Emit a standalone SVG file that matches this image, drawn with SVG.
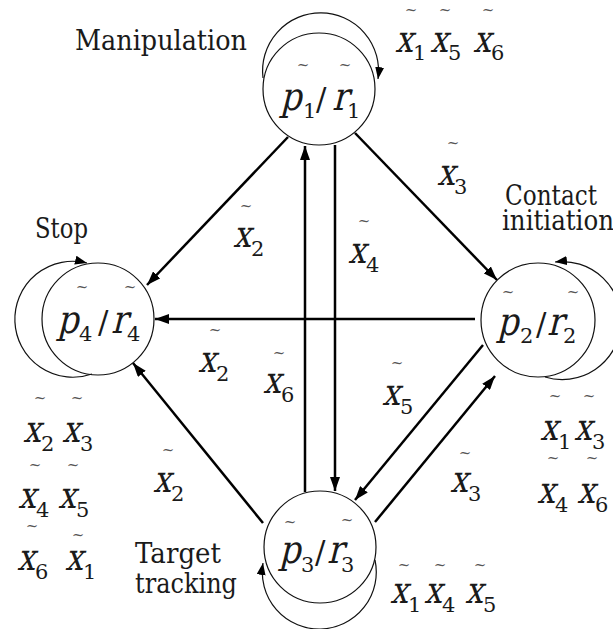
<svg xmlns="http://www.w3.org/2000/svg" width="613" height="629" viewBox="0 0 613 629" font-family="DejaVu Serif, serif">
<style>
.lbl{font-size:27px;fill:#1a1a1a}
.m{font-size:37px;fill:#1a1a1a}
.pr{font-size:39px;fill:#1a1a1a}
.s{font-size:21px;fill:#1a1a1a}
.sl{font-size:31px;fill:#1a1a1a}
.t{font-size:15px;fill:#555;text-anchor:middle}
.node{fill:none;stroke:#111;stroke-width:1.2}
.loop{fill:none;stroke:#111;stroke-width:1.2;marker-end:url(#ahs)}
.edge{fill:none;stroke:#000;stroke-width:2.5;marker-end:url(#ah)}
</style>
<defs>
<marker id="ah" markerUnits="userSpaceOnUse" markerWidth="14" markerHeight="10" refX="14" refY="5" orient="auto"><path d="M0,0 L14,5 L0,10 z" fill="#000"/></marker>
<marker id="ahs" markerUnits="userSpaceOnUse" markerWidth="12" markerHeight="9" refX="12" refY="4.5" orient="auto"><path d="M0,0 L12,4.5 L0,9 z" fill="#000"/></marker>
</defs>
<rect width="613" height="629" fill="#fff"/>

<g id="connectors">
<path class="edge" d="M288,137 L147,285"/>
<path class="edge" d="M355,133 L497,280"/>
<path class="edge" d="M305,492 L305,146"/>
<path class="edge" d="M335,145 L335,491"/>
<path class="edge" d="M475,319 L155,319"/>
<path class="edge" d="M263,523 L133,363"/>
<path class="edge" d="M483,345 L355,500"/>
<path class="edge" d="M375,522 L495,376"/>
<path class="loop" d="M263,78 A58,58 0 1,1 378,79"/>
<path class="loop" d="M545,377 A59,59 0 1,0 555,262"/>
<path class="loop" d="M375,560 A57,57 0 1,1 263,563"/>
<path class="loop" d="M92,374 A58,58 0 1,1 87,263"/>
</g>

<g id="node1">
<circle class="node" cx="319" cy="89" r="56"/>
<text class="pr" transform="translate(280,110) skewX(-14) scale(0.85,1)">p</text><text class="s" x="303" y="118">1</text>
<text class="sl" x="316" y="110">/</text>
<text class="pr" transform="translate(332,110) skewX(-14) scale(0.85,1)">r</text><text class="s" x="347" y="118">1</text>
<text class="t" x="303" y="70">~</text><text class="t" x="345" y="70">~</text>
</g>
<g id="node2">
<circle class="node" cx="538" cy="320" r="57"/>
<text class="pr" transform="translate(497,335) skewX(-14) scale(0.85,1)">p</text><text class="s" x="520" y="343">2</text>
<text class="sl" x="536" y="335">/</text>
<text class="pr" transform="translate(547,335) skewX(-14) scale(0.85,1)">r</text><text class="s" x="563" y="343">2</text>
<text class="t" x="508" y="297">~</text><text class="t" x="573" y="297">~</text>
</g>
<g id="node3">
<circle class="node" cx="320" cy="547" r="56"/>
<text class="pr" transform="translate(279,563) skewX(-14) scale(0.85,1)">p</text><text class="s" x="301" y="572">3</text>
<text class="sl" x="315" y="563">/</text>
<text class="pr" transform="translate(327,563) skewX(-14) scale(0.85,1)">r</text><text class="s" x="341" y="572">3</text>
<text class="t" x="290" y="527">~</text><text class="t" x="347" y="525">~</text>
</g>
<g id="node4">
<circle class="node" cx="98" cy="319" r="56"/>
<text class="pr" transform="translate(57,333) skewX(-14) scale(0.85,1)">p</text><text class="s" x="79" y="341">4</text>
<text class="sl" x="98" y="333">/</text>
<text class="pr" transform="translate(111,333) skewX(-14) scale(0.85,1)">r</text><text class="s" x="127" y="341">4</text>
<text class="t" x="82" y="292">~</text><text class="t" x="130" y="292">~</text>
</g>

<g id="labels">
<text class="lbl" x="75" y="50" textLength="172" lengthAdjust="spacingAndGlyphs">Manipulation</text>
<text class="lbl" x="35" y="238" textLength="53" lengthAdjust="spacingAndGlyphs">Stop</text>
<text class="lbl" x="505" y="205" textLength="92" lengthAdjust="spacingAndGlyphs">Contact</text>
<text class="lbl" x="502" y="230" textLength="112" lengthAdjust="spacingAndGlyphs">initiation</text>
<text class="lbl" x="135" y="563" textLength="86" lengthAdjust="spacingAndGlyphs">Target</text>
<text class="lbl" x="135" y="593" textLength="102" lengthAdjust="spacingAndGlyphs">tracking</text>
</g>

<g id="conditions">
<text class="m" transform="translate(395,52) skewX(-14) scale(0.85,1)">x</text><text class="s" x="413" y="60">1</text><text class="t" x="411" y="15">~</text>
<text class="m" transform="translate(430,52) skewX(-14) scale(0.85,1)">x</text><text class="s" x="448" y="60">5</text><text class="t" x="445" y="15">~</text>
<text class="m" transform="translate(473,52) skewX(-14) scale(0.85,1)">x</text><text class="s" x="491" y="60">6</text><text class="t" x="488" y="15">~</text>
<text class="m" transform="translate(437,185) skewX(-14) scale(0.85,1)">x</text><text class="s" x="454" y="194">3</text><text class="t" x="453" y="148">~</text>
<text class="m" transform="translate(233,247) skewX(-14) scale(0.85,1)">x</text><text class="s" x="251" y="256">2</text><text class="t" x="246" y="211">~</text>
<text class="m" transform="translate(348,263) skewX(-14) scale(0.85,1)">x</text><text class="s" x="366" y="272">4</text><text class="t" x="364" y="226">~</text>
<text class="m" transform="translate(198,372) skewX(-14) scale(0.85,1)">x</text><text class="s" x="216" y="381">2</text><text class="t" x="215" y="335">~</text>
<text class="m" transform="translate(263,393) skewX(-14) scale(0.85,1)">x</text><text class="s" x="281" y="402">6</text><text class="t" x="279" y="358">~</text>
<text class="m" transform="translate(382,405) skewX(-14) scale(0.85,1)">x</text><text class="s" x="400" y="414">5</text><text class="t" x="397" y="368">~</text>
<text class="m" transform="translate(450,492) skewX(-14) scale(0.85,1)">x</text><text class="s" x="468" y="501">3</text><text class="t" x="465" y="458">~</text>
<text class="m" transform="translate(153,492) skewX(-14) scale(0.85,1)">x</text><text class="s" x="171" y="501">2</text><text class="t" x="168" y="455">~</text>
<text class="m" transform="translate(540,440) skewX(-14) scale(0.85,1)">x</text><text class="s" x="558" y="449">1</text><text class="t" x="555" y="401">~</text>
<text class="m" transform="translate(574,440) skewX(-14) scale(0.85,1)">x</text><text class="s" x="592" y="449">3</text><text class="t" x="589" y="401">~</text>
<text class="m" transform="translate(537,503) skewX(-14) scale(0.85,1)">x</text><text class="s" x="555" y="512">4</text><text class="t" x="553" y="463">~</text>
<text class="m" transform="translate(577,503) skewX(-14) scale(0.85,1)">x</text><text class="s" x="595" y="512">6</text><text class="t" x="592" y="463">~</text>
<text class="m" transform="translate(390,603) skewX(-14) scale(0.85,1)">x</text><text class="s" x="408" y="612">1</text><text class="t" x="404" y="570">~</text>
<text class="m" transform="translate(424,603) skewX(-14) scale(0.85,1)">x</text><text class="s" x="442" y="612">4</text><text class="t" x="440" y="570">~</text>
<text class="m" transform="translate(465,603) skewX(-14) scale(0.85,1)">x</text><text class="s" x="483" y="612">5</text><text class="t" x="480" y="570">~</text>
<text class="m" transform="translate(23,442) skewX(-14) scale(0.85,1)">x</text><text class="s" x="41" y="451">2</text><text class="t" x="40" y="403">~</text>
<text class="m" transform="translate(62,442) skewX(-14) scale(0.85,1)">x</text><text class="s" x="80" y="451">3</text><text class="t" x="77" y="403">~</text>
<text class="m" transform="translate(18,508) skewX(-14) scale(0.85,1)">x</text><text class="s" x="36" y="517">4</text><text class="t" x="35" y="470">~</text>
<text class="m" transform="translate(58,508) skewX(-14) scale(0.85,1)">x</text><text class="s" x="76" y="517">5</text><text class="t" x="73" y="470">~</text>
<text class="m" transform="translate(17,570) skewX(-14) scale(0.85,1)">x</text><text class="s" x="35" y="579">6</text><text class="t" x="32" y="531">~</text>
<text class="m" transform="translate(65,570) skewX(-14) scale(0.85,1)">x</text><text class="s" x="83" y="579">1</text><text class="t" x="78" y="540">~</text>
</g>
</svg>
